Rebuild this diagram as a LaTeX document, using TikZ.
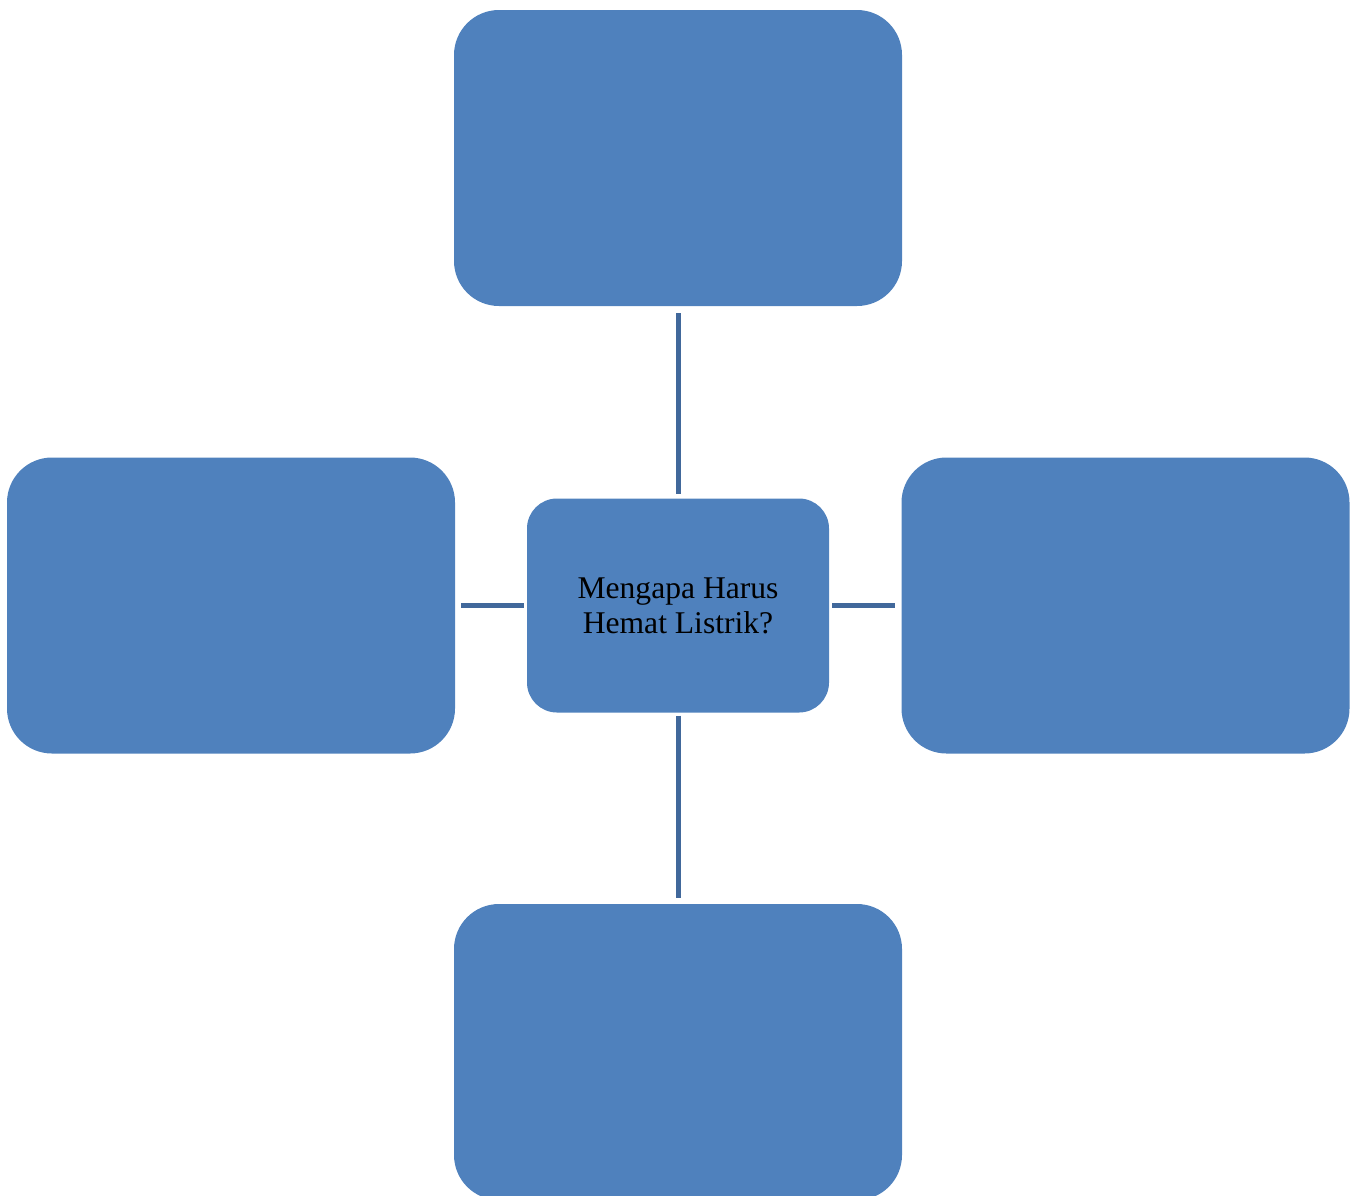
\documentclass[tikz,border=0pt]{standalone}
\usepackage{fontspec}
\setmainfont{Liberation Serif}
\definecolor{boxblue}{HTML}{4F81BD}
\definecolor{linkblue}{HTML}{41689B}
\begin{document}
\begin{tikzpicture}[x=1pt,y=-1pt,
  bigbox/.style={fill=boxblue,draw=none,rounded corners=45pt,minimum width=448pt,minimum height=296pt,inner sep=0pt},
  hub/.style={fill=boxblue,draw=none,rounded corners=30pt,minimum width=302pt,minimum height=214pt,inner sep=0pt,align=center,font=\fontsize{31.6pt}{35pt}\selectfont},
  link/.style={draw=linkblue,line width=5pt}]
\useasboundingbox (0,0) rectangle (1356,1195);
\node[bigbox] (top) at (678,158) {};
\node[bigbox] (left) at (231,605.5) {};
\node[bigbox] (right) at (1125.5,605.5) {};
\node[bigbox] (bottom) at (678,1052) {};
\node[hub] (c) at (678,605.5) {Mengapa Harus\\Hemat Listrik?};
\draw[link] ([yshift=-7pt]top.south) -- ([yshift=4pt]c.north);
\draw[link] ([yshift=-3pt]c.south) -- ([yshift=6pt]bottom.north);
\draw[link] ([xshift=6pt]left.east) -- ([xshift=-3pt]c.west);
\draw[link] ([xshift=3pt]c.east) -- ([xshift=-6pt]right.west);
\end{tikzpicture}
\end{document}
